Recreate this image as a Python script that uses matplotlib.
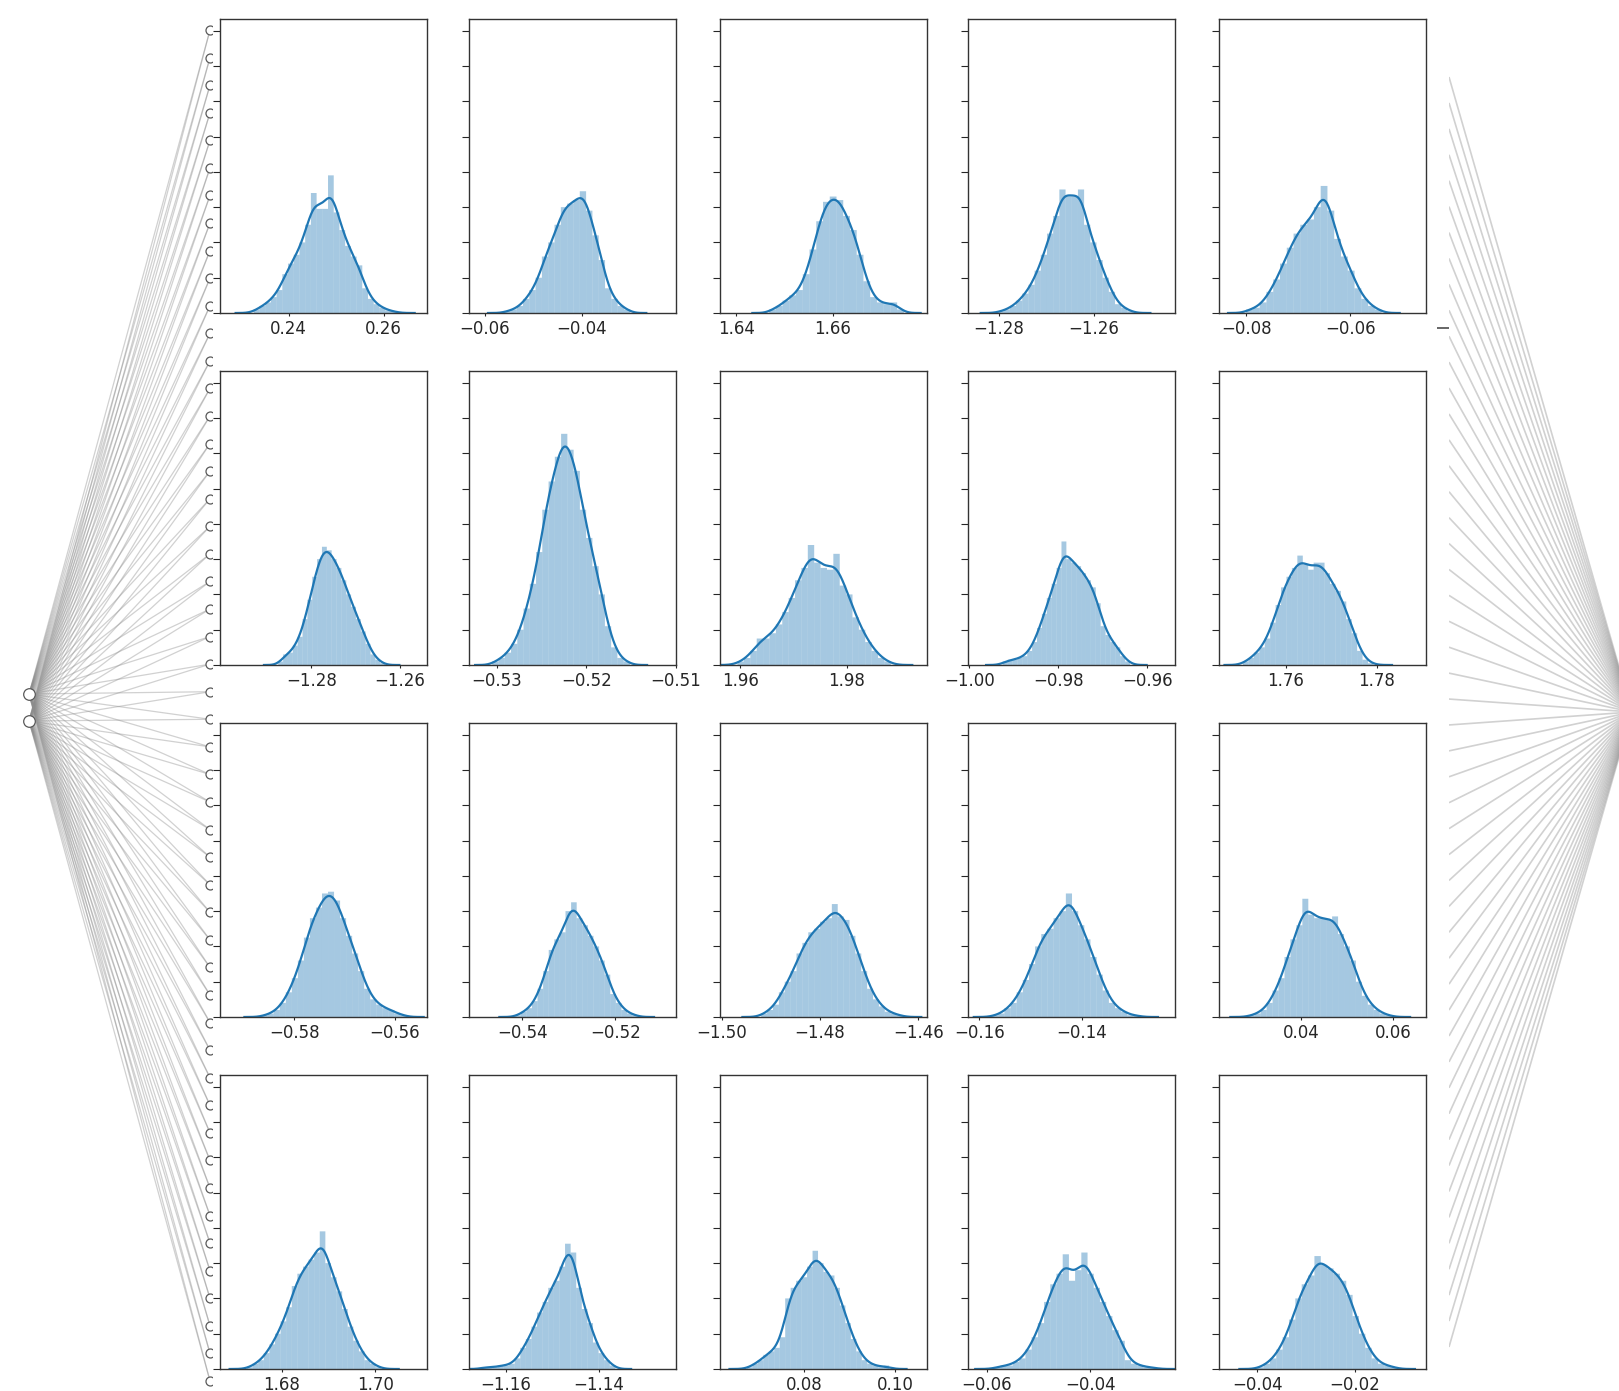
import numpy as np
import matplotlib
matplotlib.use("Agg")
import matplotlib.pyplot as plt
from matplotlib.collections import LineCollection
from matplotlib.ticker import FixedLocator, FuncFormatter

# network shape: inputs -> hidden units -> output
n_inputs = 2
n_hidden = 50

# histogram of each hidden unit's weight samples: first bin edge, bin width, bar heights (density)
bin_starts = [0.2327, -0.0560, 1.6468, -1.2803, -0.0800,
              -1.2875, -0.5305, 1.9595, -0.9925, 1.7505,
              -0.5865, -0.5415, -1.4920, -0.1575, 0.0285,
              1.6725, -1.1653, 0.0675, -0.0585, -0.0400]
bin_widths = [0.0012, 0.0013, 0.0014, 0.0013, 0.0013,
              0.0011, 0.0007, 0.0012, 0.0011, 0.0012,
              0.0012, 0.0012, 0.0012, 0.0012, 0.0013,
              0.0012, 0.0012, 0.0012, 0.0012, 0.0013]

h01 = [2, 4, 6, 9, 13, 22, 28, 33, 40, 50, 68, 59, 59, 78, 57, 47, 38, 32, 27, 14, 8, 5, 3, 1.5, 1]
h02 = [1, 2, 4, 8, 13, 20, 32, 40, 50, 60, 62, 64, 69, 58, 44, 30, 14, 8, 4, 2]
h03 = [2, 4, 7, 10, 13, 22, 36, 52, 63, 66, 64, 55, 47, 33, 18, 9, 6, 5, 6, 2]
h04 = [1, 2, 4, 7, 11, 16, 24, 33, 45, 55, 70, 66, 66, 70, 50, 40, 30, 20, 12, 5, 3, 1]
h05 = [2, 3, 6, 12, 19, 28, 37, 45, 50, 53, 60, 72, 58, 42, 32, 24, 14, 8, 4, 2]
h06 = [2, 6, 7, 11, 16, 26, 37, 50, 60, 67, 65, 60, 55, 48, 40, 33, 26, 19, 12, 6, 3, 1]
h07 = [2, 4, 7, 12, 20, 32, 46, 64, 88, 104, 118, 131, 122, 110, 88, 72, 56, 40, 22, 10, 4, 2]
h08 = [2, 4, 8, 15, 15, 18, 23, 30, 38, 48, 55, 68, 58, 55, 54, 63, 45, 40, 27, 20, 13, 8, 4, 2]
h09 = [2, 3, 3, 4, 5, 8, 13, 21, 29, 38, 46, 55, 70, 60, 58, 56, 52, 48, 44, 35, 22, 17, 13, 10, 5, 2]
h10 = [2, 4, 7, 10, 15, 24, 34, 44, 50, 55, 62, 57, 54, 58, 58, 52, 46, 42, 36, 26, 18, 8, 3, 1]
h11 = [1, 2, 4, 8, 14, 22, 32, 45, 56, 62, 70, 71, 66, 56, 46, 36, 26, 16, 10, 7, 5, 4, 2, 1]
h12 = [1, 3, 5, 9, 16, 26, 38, 44, 48, 60, 65, 56, 52, 46, 40, 32, 24, 13, 8, 4, 2, 1]
h13 = [2, 4, 7, 14, 20, 26, 36, 42, 48, 50, 54, 56, 64, 57, 55, 46, 36, 26, 16, 10, 6, 3, 2, 1]
h14 = [1, 2, 5, 8, 14, 21, 30, 40, 47, 50, 56, 60, 70, 60, 52, 44, 34, 24, 15, 8, 5, 3, 1, 1]
h15 = [1, 2, 4, 8, 15, 22, 34, 44, 52, 67, 58, 56, 56, 55, 57, 47, 40, 32, 20, 12, 7, 4, 2, 1]
h16 = [1, 3, 5, 9, 14, 20, 27, 35, 47, 54, 58, 62, 66, 78, 60, 52, 44, 34, 24, 16, 10, 5, 3, 1]
h17 = [1, 1, 1, 2, 2, 3, 6, 12, 17, 24, 32, 38, 46, 50, 58, 71, 66, 46, 34, 26, 15, 9, 5, 2]
h18 = [1, 3, 5, 8, 10, 12, 18, 40, 46, 50, 52, 58, 67, 60, 55, 53, 46, 36, 26, 17, 10, 5, 3, 2, 1, 2]
h19 = [1, 2, 2, 4, 6, 11, 18, 26, 38, 48, 54, 65, 50, 56, 66, 54, 46, 38, 30, 22, 16, 5, 3, 2, 1, 1]
h20 = [1, 3, 6, 11, 18, 28, 40, 48, 53, 64, 59, 57, 54, 50, 42, 30, 20, 12, 6, 3, 2, 1]
bar_heights = [h01, h02, h03, h04, h05, h06, h07, h08, h09, h10,
               h11, h12, h13, h14, h15, h16, h17, h18, h19, h20]

x_limits = [(0.2256, 0.2691), (-0.0632, -0.0206), (1.6366, 1.6796), (-1.2865, -1.2430), (-0.0852, -0.0455),
            (-1.3007, -1.2538), (-0.5331, -0.50995), (1.9562, 1.9951), (-1.0003, -0.9538), (1.7452, 1.7909),
            (-0.5948, -0.5536), (-0.5514, -0.5070), (-1.5004, -1.4582), (-0.1622, -0.1218), (0.0220, 0.0672),
            (1.6667, 1.7111), (-1.1679, -1.1235), (0.0616, 0.1070), (-0.0636, -0.0236), (-0.0478, -0.0055)]
x_ticks = [[0.24, 0.26], [-0.06, -0.04], [1.64, 1.66], [-1.28, -1.26], [-0.08, -0.06],
           [-1.28, -1.26], [-0.53, -0.52, -0.51], [1.96, 1.98], [-1.00, -0.98, -0.96], [1.76, 1.78],
           [-0.58, -0.56], [-0.54, -0.52], [-1.50, -1.48, -1.46], [-0.16, -0.14], [0.04, 0.06],
           [1.68, 1.70], [-1.16, -1.14], [0.08, 0.10], [-0.06, -0.04], [-0.04, -0.02]]

BLUE = "#1f77b4"
W, H = 1619, 1391

plt.rcParams["font.family"] = "DejaVu Sans"
plt.rcParams["font.size"] = 12

fig = plt.figure(figsize=(W / 100, H / 100), dpi=100)


def px_axes(left, top, right, bottom):
    return fig.add_axes([left / W, 1 - bottom / H, (right - left) / W, (bottom - top) / H])


def kde_curve(start, width, heights, n_samples=1000):
    """Gaussian KDE of the binned samples, scaled to the histogram area."""
    heights = np.asarray(heights, float)
    centers = start + width * (np.arange(len(heights)) + 0.5)
    wts = heights / heights.sum()
    mean = np.sum(wts * centers)
    sd = np.sqrt(np.sum(wts * (centers - mean) ** 2))
    bw = sd * n_samples ** (-0.2)
    grid = np.linspace(start - 3 * bw, start + width * len(heights) + 3 * bw, 400)
    dens = np.exp(-0.5 * ((grid[None, :] - centers[:, None]) / bw) ** 2)
    dens = (wts[:, None] * dens).sum(0) / (bw * np.sqrt(2 * np.pi))
    return grid, dens * heights.sum() * width


# --- network lines, left: inputs fanning out to the hidden column ---
net_l = px_axes(0, 0, 212, H)
net_l.set_xlim(0, 212)
net_l.set_ylim(H, 0)
net_l.axis("off")

in_x, hid_x = 29, 210
in_y = np.linspace(694, 721, n_inputs)
hid_y = np.linspace(30, 1381, n_hidden)
segs = [[(in_x, iy), (hid_x, hy)] for iy in in_y for hy in hid_y]
net_l.add_collection(LineCollection(segs, colors="0.55", linewidths=0.9, alpha=0.4, zorder=1))
net_l.scatter(np.full(n_hidden, hid_x), hid_y, s=42, facecolor="white",
              edgecolor="0.35", linewidth=0.9, zorder=3)
net_l.scatter(np.full(n_inputs, in_x), in_y, s=70, facecolor="white",
              edgecolor="0.35", linewidth=0.9, zorder=3)

# --- network lines, right: hidden column converging to the output ---
net_r = px_axes(1449, 0, W, H)
net_r.set_xlim(1449, W)
net_r.set_ylim(H, 0)
for s in net_r.spines.values():
    s.set_visible(False)
net_r.set_xticks([])
net_r.set_yticks([328])
net_r.tick_params(axis="y", length=8.6, width=1.2, color="0.3", labelleft=False)
out_x, out_y = 1632, 712
right_y = np.linspace(77, 1347, n_hidden)
segs_r = [[(1449, ry), (out_x, out_y)] for ry in right_y]
net_r.add_collection(LineCollection(segs_r, colors="0.55", linewidths=1.2, alpha=0.4, zorder=1))

# --- weight distribution panels ---
col_left = [220, 469, 720, 968, 1219]
row_top = [19, 371, 723, 1075]
panel_w, panel_h = 207, 294

fmt = FuncFormatter(lambda v, pos: f"{v:.2f}".replace("-", "\u2212"))

for i in range(20):
    r, c = divmod(i, 5)
    ax = px_axes(col_left[c], row_top[r], col_left[c] + panel_w, row_top[r] + panel_h)
    start, width, heights = bin_starts[i], bin_widths[i], bar_heights[i]
    edges = start + width * np.arange(len(heights))
    ax.bar(edges, heights, width=width, align="edge", color=BLUE, alpha=0.4,
           linewidth=0, snap=False)
    gx, gy = kde_curve(start, width, heights)
    ax.plot(gx, gy, color=BLUE, lw=1.6)
    ax.set_xlim(*x_limits[i])
    ax.set_ylim(0, 166.6)
    ax.set_yticks(np.arange(0, 161, 20))
    ax.xaxis.set_major_locator(FixedLocator(x_ticks[i]))
    ax.xaxis.set_major_formatter(fmt)
    ax.tick_params(axis="x", length=2.5, width=0.8, pad=2.5, colors="0.15")
    ax.tick_params(axis="y", length=4.7, width=0.8, labelleft=False, colors="0.15")
    for s in ax.spines.values():
        s.set_linewidth(1.0)
        s.set_color("0.2")

fig.savefig("out.png", dpi=100)
